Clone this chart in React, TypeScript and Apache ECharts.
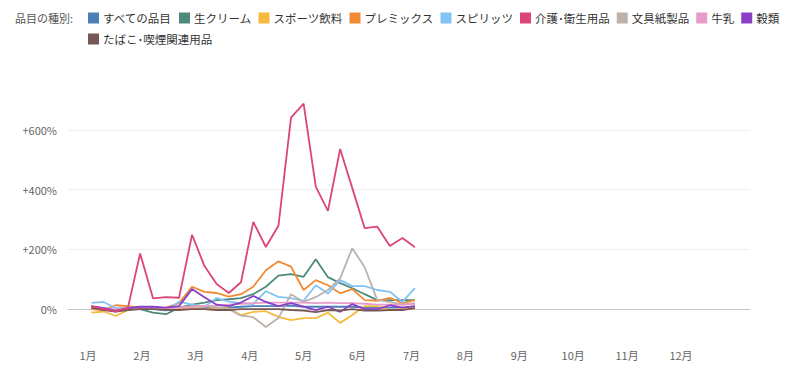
import React, { useEffect, useRef } from "react";
import * as echarts from "echarts";

const YEAR = 2020;
const weekDates = [
  "01-03", "01-10", "01-17", "01-24", "01-31",
  "02-07", "02-14", "02-21", "02-28",
  "03-06", "03-13", "03-20", "03-27",
  "04-03", "04-10", "04-17", "04-24",
  "05-01", "05-08", "05-15", "05-22", "05-29",
  "06-05", "06-12", "06-19", "06-26",
  "07-03",
];
const monthLabels = ["1月", "2月", "3月", "4月", "5月", "6月", "7月", "8月", "9月", "10月", "11月", "12月"];

const seriesNames = [
  "すべての品目", "生クリーム", "スポーツ飲料", "プレミックス", "スピリッツ",
  "介護･衛生用品", "文具紙製品", "牛乳", "穀類", "たばこ･喫煙関連用品",
];
const seriesColors = [
  "#4a7fb8", "#4e8a7c", "#f6bb3e", "#f28a34", "#80c3f5",
  "#dc4577", "#bcb2aa", "#e69cc6", "#8b3fc6", "#765657",
];

const allItems = [8, 3, -3, 2, 3, 3, 2, 3, 10, 8, 5, 5, 8, 10, 10, 10, 12, 8, 8, 8, 8, 8, 5, 5, 5, 5, 8];
const freshCream = [8, 0, -5, 0, 0, -12, -17, 5, 15, 22, 30, 33, 37, 50, 75, 112, 117, 108, 167, 107, 87, 70, 50, 30, 30, 30, 30];
const sportsDrink = [-12, -8, -23, -3, 5, 3, 0, 3, 5, 0, 3, 3, -20, -9, -7, -26, -37, -30, -30, -12, -46, -20, 10, 10, -3, 0, 5];
const premix = [0, -3, 13, 10, 5, 3, 5, 20, 75, 58, 54, 42, 50, 75, 130, 160, 142, 64, 97, 80, 53, 67, 30, 28, 38, 20, 30];
const spirits = [21, 24, 3, 5, 5, 0, -5, 25, 15, 8, 37, 25, 20, 17, 60, 41, 37, 28, 80, 52, 97, 77, 77, 64, 58, 24, 70];
const careHygiene = [10, 0, -8, 5, 186, 36, 40, 38, 249, 144, 84, 54, 90, 292, 208, 279, 641, 688, 410, 329, 536, 405, 271, 276, 211, 238, 207];
const stationery = [5, 0, -5, 0, 5, 5, 3, 5, 10, 10, 5, 0, -22, -27, -60, -30, 50, 24, 40, 64, 103, 204, 140, 30, 24, 15, 20];
const milk = [5, 0, 0, 3, 3, 5, 3, 5, 8, 10, 12, 15, 18, 20, 22, 22, 22, 22, 20, 22, 20, 20, 18, 15, 15, 15, 18];
const grains = [10, 3, -6, 3, 8, 8, 5, 10, 67, 40, 15, 10, 22, 44, 24, 10, 20, 8, -3, 8, -9, 17, 0, 0, 13, 5, 10];
const tobacco = [5, -3, -8, -3, 0, 0, -3, -3, 0, 0, -3, -3, 0, 0, 0, 0, -3, -5, -10, -3, -5, 0, -5, -5, -3, -3, 3];

const seriesValues = [allItems, freshCream, sportsDrink, premix, spirits, careHygiene, stationery, milk, grains, tobacco];

function daysInMonth(y: number, m: number) {
  return new Date(y, m, 0).getDate();
}
function monthPos(md: string) {
  const [m, d] = md.split("-").map(Number);
  return m - 1 + (d - 1) / daysInMonth(YEAR, m);
}

const FONT = "'Noto Sans CJK JP', 'Noto Sans', sans-serif";

export default function App() {
  const ref = useRef<HTMLDivElement>(null);
  useEffect(() => {
    if (!ref.current) return;
    const chart = echarts.init(ref.current, null, { renderer: "svg" });
    const xs = weekDates.map(monthPos);
    chart.setOption({
      animation: false,
      textStyle: { fontFamily: FONT },
      graphic: [
        {
          type: "text",
          left: 7,
          top: 4,
          style: { text: "品目の種別:", fontSize: 11, fill: "#555", fontFamily: FONT },
        },
      ],
      legend: {
        left: 80,
        top: 3,
        width: 710,
        padding: 0,
        itemWidth: 11,
        itemHeight: 11,
        itemGap: 7,
        icon: "rect",
        textStyle: { fontSize: 11.5, color: "#333", lineHeight: 14, padding: [0, 0, 0, -1] },
        data: seriesNames,
      },
      grid: { left: 60, right: 42, top: 92, bottom: 45 },
      xAxis: {
        type: "value",
        min: -0.37,
        max: 12.28,
        axisLine: { show: false },
        axisTick: { show: false },
        splitLine: { show: false },
        axisLabel: {
          customValues: monthLabels.map((_, i) => i),
          formatter: (v: number) => monthLabels[Math.round(v)] ?? "",
          color: "#666",
          fontSize: 11,
          margin: 10,
        },
      },
      yAxis: {
        type: "value",
        min: -100,
        max: 700,
        interval: 100,
        axisLine: { show: false },
        axisTick: { show: false },
        axisLabel: {
          color: "#666",
          fontSize: 11,
          margin: 11,
          formatter: (v: number) => (v === 0 ? "0%" : v > 0 && v % 200 === 0 ? "+" + v + "%" : ""),
        },
        splitLine: {
          lineStyle: {
            color: [
              "rgba(0,0,0,0)", "#c4c4c4", "rgba(0,0,0,0)", "#efefef", "rgba(0,0,0,0)",
              "#efefef", "rgba(0,0,0,0)", "#efefef", "rgba(0,0,0,0)",
            ],
            width: 1,
          },
        },
      },
      series: seriesNames.map((name, si) => ({
        name,
        type: "line",
        showSymbol: false,
        symbol: "none",
        color: seriesColors[si],
        lineStyle: { width: 1.8, color: seriesColors[si] },
        z: si === 5 ? 3 : 2,
        data: xs.map((x, i) => [x, seriesValues[si][i]]),
      })),
    });
    return () => chart.dispose();
  }, []);
  return <div ref={ref} style={{ width: 784, height: 376 }} />;
}
